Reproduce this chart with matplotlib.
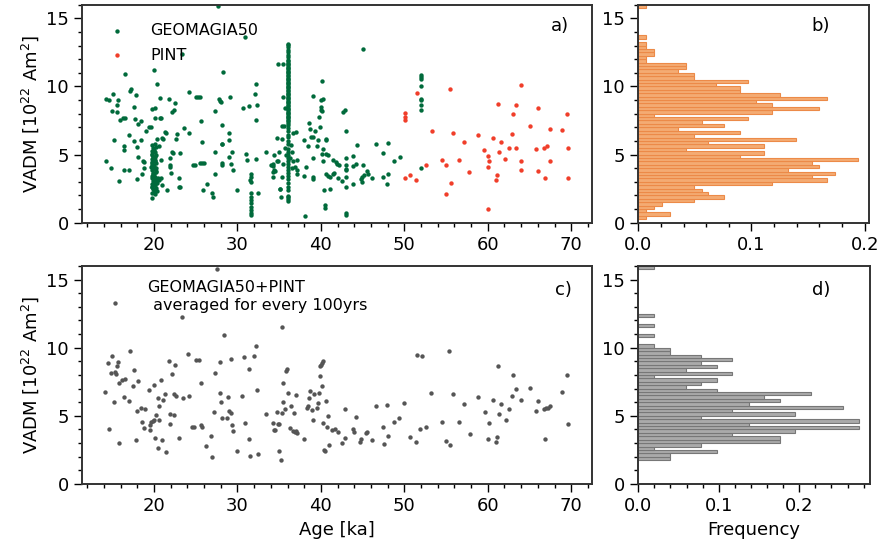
import matplotlib
matplotlib.use('Agg')
import matplotlib.pyplot as plt
from matplotlib.ticker import MultipleLocator

# --- panel a: GEOMAGIA50 (scattered points) ---
geo_age = [14.25, 14.8, 14.25, 14.55, 15.05, 15.0, 15.2, 15.5, 15.55, 15.65, 15.8, 15.9,
           16.3, 16.55, 16.5, 16.45, 16.45, 16.45, 17.1, 17.2, 17.05, 17.05, 17.55, 17.6,
           17.75, 17.8, 17.95, 18.0, 18.05, 18.1, 18.45, 18.45, 18.5, 18.7, 18.85, 18.85,
           19.05, 19.45, 19.6, 19.7, 20.08, 20.04, 20.4, 20.1, 20.7, 20.8, 20.68, 20.4,
           20.96, 21.1, 21.4, 20.6, 20.8, 20.84, 20.98, 21.56, 20.6, 21.84, 22.2, 22.4,
           22.55, 21.36, 22.67, 22.8, 21.92, 21.92, 21.95, 22.1, 22.3, 22.07, 23.03, 23.03,
           23.1, 23.1, 23.6, 23.4, 24.15, 24.23, 24.67, 24.85, 25.0, 25.3, 25.45, 25.5,
           25.63, 25.75, 25.75, 25.9, 26.0, 26.3, 27.0, 27.1, 27.3, 27.3, 27.7, 27.3,
           27.8, 27.9, 28.0, 28.3, 28.1, 28.1, 28.15, 28.1, 28.2, 28.96, 28.96, 28.96,
           29.1, 29.26, 29.3, 29.5, 30.0, 30.66, 30.9, 30.98, 31.1, 31.4, 31.5,
           32.1, 32.25, 32.3, 32.25, 32.2, 32.45, 33.4, 34.3, 34.4, 34.3, 34.3, 34.5,
           34.7, 34.8, 35.1, 35.2, 35.3, 35.5, 35.7, 35.7, 35.8, 34.05, 34.3, 34.37,
           34.69, 34.89, 34.93, 35.37, 35.29, 35.05, 35.45, 35.53, 35.49, 36.29, 36.49,
           36.69, 36.89, 37.13, 37.17, 37.17, 36.61, 37.01, 36.53, 36.37,
           38.1, 38.0, 38.2, 38.0, 38.4, 38.6, 38.7, 38.76, 39.0, 39.0, 39.0, 39.1,
           39.1, 39.3, 39.56, 39.6, 39.84, 39.8, 39.96, 40.08, 39.96, 40.0, 40.1, 40.28,
           40.2, 40.08, 40.28, 40.4, 40.48, 40.5, 40.6, 40.65, 40.6, 40.6, 40.8, 40.9,
           41.08, 41.08, 41.4, 41.5, 41.6, 41.76, 41.9, 42.1, 42.2, 42.5, 42.7, 42.9,
           42.95, 42.95, 42.95, 42.95, 43.0, 43.0, 43.0, 42.95, 43.0, 43.9, 43.9, 43.9,
           44.2, 44.3, 44.8, 44.9, 44.9, 45.0, 45.0, 45.2, 45.5, 45.6, 46.1, 46.6,
           47.43, 47.4, 47.9, 48.06, 48.1, 48.7, 49.46]
geo_vadm = [4.56, 4.0, 9.1, 8.97, 9.42, 8.16, 6.08, 8.1, 8.65, 9.02, 3.05, 7.5,
            7.67, 7.7, 10.9, 5.66, 5.32, 3.83, 9.65, 9.8, 6.45, 3.87, 8.5, 5.98,
            7.58, 9.34, 3.24, 5.54, 4.8, 7.25, 7.45, 6.1, 3.58, 4.56, 4.45, 4.0,
            6.7, 7.0, 7.03, 8.34, 8.41, 11.23, 10.15, 7.67, 7.67, 7.7, 9.14, 6.15,
            6.2, 6.15, 6.6, 5.6, 4.6, 3.29, 2.75, 2.38, 3.1, 9.07, 8.12, 8.26,
            8.75, 6.62, 6.13, 6.5, 4.73, 4.24, 4.1, 5.15, 5.1, 3.68, 3.26, 2.65,
            2.6, 5.1, 6.96, 12.4, 9.56, 6.57, 4.22, 4.22, 9.2, 9.2, 9.2, 4.35,
            7.48, 5.9, 4.36, 2.43, 4.36, 2.84, 2.2, 1.9, 3.6, 5.2, 15.9, 8.2,
            9.07, 8.95, 8.85, 11.05, 7.2, 5.8, 5.75, 4.25, 4.4, 6.1, 6.6, 4.85,
            9.24, 4.3, 5.15, 3.9, 2.43, 8.4, 13.6, 5.07, 4.6, 8.58, 3.1,
            9.46, 10.17, 8.65, 7.55, 4.65, 2.2, 5.17, 4.3, 4.97, 3.36, 3.7, 3.8,
            6.25, 11.67, 2.5, 1.86, 7.1, 9.2, 8.45, 5.5, 5.0, 4.24, 4.17, 3.9,
            4.49, 4.56, 5.2, 3.38, 6.15, 2.45, 11.64, 7.13, 4.29, 4.73, 4.0,
            4.49, 4.1, 3.85, 4.58, 3.6, 6.57, 6.69, 5.22, 5.71,
            0.49, 6.08, 4.1, 3.45, 5.6, 7.35, 6.86, 6.32, 9.3, 3.23, 3.35, 6.3,
            4.75, 6.7, 5.64, 6.1, 7.0, 7.75, 9.0, 10.42, 8.48, 8.3, 8.16, 9.1,
            5.42, 5.05, 4.53, 2.4, 1.32, 1.08, 6.08, 6.15, 5.05, 3.6, 3.4, 5.0,
            3.38, 2.47, 3.6, 4.58, 3.68, 4.44, 4.34, 3.28, 4.26, 3.04, 8.1, 8.28,
            6.7, 3.85, 3.95, 0.74, 0.56, 4.73, 2.65, 3.38, 4.24, 4.9, 4.17, 2.82,
            4.3, 5.7, 3.2, 3.0, 3.35, 12.75, 4.24, 3.5, 3.8, 3.6, 3.26, 5.8,
            5.12, 3.36, 2.87, 5.83, 3.55, 4.53, 4.85]

# dense column near 20 ka
col20_age = [19.8, 20.1, 19.7, 20.0, 19.9, 20.2, 19.8, 20.1, 19.7, 20.0, 19.9, 20.2,
             19.8, 20.1, 19.7, 20.0, 19.9, 20.2, 19.8, 20.1, 19.7, 20.0, 19.9, 20.2,
             19.8, 20.1, 19.7, 20.0, 19.9, 20.2, 19.8, 20.1, 19.7, 20.0, 19.9, 20.2,
             19.8, 20.1, 19.7, 20.0, 19.9, 20.2, 19.8, 20.1, 19.7, 20.0, 19.9, 20.2,
             19.8, 20.1, 20.4, 20.5, 19.6, 20.3]
col20_vadm = [1.84, 2.1, 2.2, 2.3, 2.45, 2.55, 2.65, 2.75, 2.85, 2.95, 3.05, 3.15,
              3.25, 3.35, 3.45, 3.55, 3.65, 3.75, 3.85, 3.95, 4.05, 4.15, 4.25, 4.35,
              4.45, 4.55, 4.65, 4.75, 4.85, 4.95, 5.05, 5.15, 5.25, 5.35, 5.45, 5.55,
              5.7, 5.8, 2.6, 3.0, 3.4, 3.8, 4.2, 4.6, 5.0, 3.2, 3.6, 4.0,
              4.4, 4.8, 2.9, 3.3, 4.1, 2.35]

# dense column near 31.7 ka
col32_age = [31.66, 31.66, 31.66, 31.66, 31.66, 31.66, 31.66, 31.66, 31.66, 31.66, 31.66]
col32_vadm = [3.58, 3.33, 3.02, 2.16, 1.9, 1.67, 1.42, 1.18, 0.93, 0.69, 0.56]

# dense column near 36 ka
col36_age = [36.05] * 79
col36_vadm = [13.14, 13.02, 12.87, 12.7, 12.53, 12.33, 12.16,
              11.95, 11.85, 11.75, 11.65, 11.55, 11.45, 11.35, 11.25, 11.15, 11.05,
              10.95, 10.85, 10.75, 10.65, 10.55, 10.45, 10.35, 10.25, 10.15, 10.05,
              9.95, 9.85, 9.75, 9.65, 9.55, 9.45, 9.35, 9.25, 9.15, 9.05,
              8.95, 8.85, 8.75, 8.65, 8.55, 8.45, 8.35, 8.25, 8.15, 8.05,
              7.95, 7.85, 7.75, 7.65, 7.55, 7.45, 7.35,
              7.2, 6.96, 6.72, 6.47, 6.3, 5.98, 5.74, 5.44, 5.22, 5.0, 4.76, 4.51,
              4.32, 4.12, 3.9, 3.66, 3.41, 3.17, 2.92, 2.6, 2.41, 1.99, 1.87, 1.72, 1.57]

# column near 52 ka
col52_age = [51.98, 51.98, 51.98, 51.98, 51.98, 51.98, 51.98, 51.98, 51.98]
col52_vadm = [4.04, 10.85, 10.7, 10.55, 10.0, 9.1, 9.0, 8.6, 8.3]

# --- panel a: PINT ---
pint_age = [50.06, 50.06, 50.06, 50.06, 50.7, 51.4, 51.46, 52.65, 53.3, 54.57, 55.05, 55.05,
            55.45, 55.57, 55.85, 56.57, 57.1, 57.8, 58.8, 59.6, 60.04, 60.04, 60.1, 60.04,
            60.6, 61.04, 61.16, 61.24, 61.36, 61.64, 62.1, 62.5, 62.9, 63.03, 63.43, 63.43,
            64.03, 64.03, 64.03, 65.03, 65.8, 66.03, 66.03, 66.75, 66.83, 67.1, 67.4, 67.4,
            68.94, 69.5, 69.6, 69.6]
pint_vadm = [8.04, 7.75, 7.5, 3.28, 3.5, 3.1, 9.53, 4.2, 6.7, 4.6, 4.2, 2.13,
             9.8, 2.9, 6.6, 4.6, 5.9, 3.7, 6.4, 5.3, 4.9, 4.1, 4.5, 1.0,
             6.2, 3.1, 3.5, 8.73, 5.2, 5.9, 4.7, 5.5, 6.5, 8.0, 8.6, 5.5,
             10.1, 4.5, 3.9, 7.1, 5.4, 8.4, 3.8, 5.5, 3.3, 5.6, 6.9, 4.5,
             6.8, 8.0, 5.5, 3.3]

# --- panel c: averaged every 100 yrs ---
avg_age = [27.55, 15.37, 23.35, 28.38, 17.17, 14.97, 14.45, 15.69, 15.53, 24.07, 25.03, 25.35,
           21.76, 22.47, 17.64, 14.81, 15.37, 15.49, 15.85, 16.17, 16.57, 18.04, 17.48, 14.13,
           15.17, 16.37, 16.97, 19.36, 19.96, 20.88, 22.16, 21.32, 20.44, 21.12, 20.64, 22.35,
           22.67, 23.47, 24.15, 25.67, 27.27, 27.86, 29.18, 30.74, 31.34, 17.92, 18.44, 18.88,
           20.28, 21.96, 22.4, 18.56, 18.76, 19.56, 19.68, 19.85, 20.04, 19.56, 20.64, 21.88,
           24.55, 24.75, 25.63, 25.8, 27.19, 27.86, 28.06, 28.86, 28.98, 29.18, 28.16, 28.78,
           29.38, 29.46, 30.54, 30.94, 14.65, 15.77, 17.88, 20.08, 20.96, 20.48, 21.48, 22.95,
           26.87, 26.27, 26.95, 29.94, 31.34, 31.5,
           35.37, 32.17, 31.98, 32.3, 33.37, 34.69, 35.29, 34.21, 34.41, 34.55, 34.85, 34.95,
           32.45, 35.0, 35.17, 35.49, 35.49, 35.81, 35.97, 35.73, 36.09, 36.37, 36.81, 37.0,
           36.29, 36.69, 36.85, 37.0, 37.17, 38.0, 38.28, 38.48, 38.6, 38.72, 39.2, 38.96,
           39.08, 39.48, 39.6, 39.72, 39.84, 39.88, 39.96, 40.12, 40.28, 40.08, 40.2, 40.36,
           40.5, 40.64, 40.8, 40.68, 40.96, 41.3, 41.67, 42.1, 42.5, 42.87, 42.83, 44.19,
           43.79, 43.91, 44.75, 44.71, 45.39, 45.5, 46.11, 46.59, 47.98, 47.42, 47.62, 48.1,
           48.7, 49.38, 49.98, 50.66, 51.34, 51.46, 51.86,
           52.06, 52.65, 53.21, 54.53, 55.01, 55.53, 55.41, 55.81, 56.53, 57.13, 57.84, 58.84,
           59.64, 60.12, 60.04, 60.64, 61.12, 61.04, 61.24, 61.32, 61.64, 62.16, 62.5, 62.95,
           63.03, 63.43, 64.03, 65.03, 65.83, 66.03, 66.83, 66.71, 66.95, 67.19, 67.42, 68.94,
           69.54, 69.66]
avg_vadm = [15.8, 13.28, 12.25, 10.96, 9.79, 9.42, 8.91, 8.96, 8.69, 9.52, 9.1, 9.1,
            9.01, 8.74, 8.4, 8.13, 8.23, 8.08, 7.44, 7.62, 7.69, 7.54, 7.18, 6.78,
            6.05, 6.37, 6.08, 6.93, 7.3, 7.66, 8.05, 6.57, 6.32, 6.13, 5.73, 6.64,
            6.47, 6.3, 6.49, 7.42, 8.15, 8.93, 9.18, 9.3, 8.47, 5.39, 5.61, 5.52,
            5.05, 5.15, 5.05, 4.56, 4.12, 4.32, 4.56, 4.6, 4.66, 3.95, 4.73, 4.37,
            4.15, 4.15, 4.32, 4.2, 5.25, 6.66, 6.0, 6.39, 5.34, 5.2, 4.81, 4.81,
            4.32, 3.9, 6.44, 4.49, 4.0, 3.0, 3.22, 3.34, 3.2, 2.66, 2.32, 3.34,
            3.49, 2.76, 1.95, 2.44, 3.29, 2.05,
            11.55, 10.11, 9.42, 6.88, 5.15, 5.3, 5.2, 4.51, 3.95, 3.93, 4.42, 4.38,
            2.2, 2.41, 1.75, 7.44, 6.03, 8.27, 8.47, 5.49, 6.66, 5.69, 5.2, 6.52,
            4.12, 3.9, 3.82, 3.9, 3.73, 3.29, 5.54, 5.69, 6.32, 6.81, 6.64, 5.44,
            4.71, 5.59, 5.98, 6.71, 7.93, 8.67, 8.76, 8.91, 9.06, 7.2, 4.51, 2.49,
            2.45, 6.08, 5.0, 4.15, 2.85, 3.98, 4.03, 3.78, 3.0, 3.39, 5.49, 4.95,
            4.07, 3.81, 3.29, 3.1, 3.73, 3.85, 3.2, 5.74, 5.78, 4.2, 2.9, 3.49,
            4.56, 4.83, 5.93, 3.47, 3.1, 9.5, 4.03,
            9.4, 4.15, 6.66, 4.56, 3.15, 2.85, 9.74, 6.57, 4.56, 5.88, 3.68, 6.37,
            5.27, 4.47, 3.29, 6.17, 3.46, 3.07, 8.67, 5.17, 5.88, 4.68, 5.47, 6.47,
            7.98, 7.0, 6.13, 7.05, 5.37, 6.08, 3.27, 5.47, 5.54, 5.61, 5.69, 6.76,
            7.98, 4.37]

# --- panel b: histogram of GEOMAGIA50 + PINT (bin lower edge, frequency) ---
b_bins = [0.25, 0.5, 0.75, 1.0, 1.25, 1.5, 1.75, 2.0, 2.25, 2.5, 2.75, 3.0, 3.25, 3.5,
          3.75, 4.0, 4.25, 4.5, 4.75, 5.0, 5.25, 5.5, 5.75, 6.0, 6.25, 6.5, 6.75, 7.0,
          7.25, 7.5, 7.75, 8.0, 8.25, 8.5, 8.75, 9.0, 9.25, 9.5, 9.75, 10.0, 10.25, 10.5,
          10.75, 11.0, 11.25, 11.5, 11.75, 12.0, 12.25, 12.5, 12.75, 13.0, 13.5, 15.75]
b_freq = [0.0065, 0.028, 0.0065, 0.0135, 0.0206, 0.049, 0.076, 0.062, 0.056, 0.049, 0.118,
          0.167, 0.153, 0.174, 0.132, 0.16, 0.153, 0.194, 0.09, 0.111, 0.042, 0.111, 0.062,
          0.139, 0.049, 0.09, 0.035, 0.076, 0.056, 0.097, 0.0135, 0.118, 0.16, 0.118, 0.104,
          0.167, 0.125, 0.09, 0.09, 0.069, 0.097, 0.049, 0.049, 0.035, 0.042, 0.042, 0.0065,
          0.0065, 0.0135, 0.0135, 0.0065, 0.0065, 0.0065, 0.0065]

# --- panel d: histogram of averaged data ---
d_bins = [1.75, 2.0, 2.25, 2.5, 2.75, 3.0, 3.25, 3.5, 3.75, 4.0, 4.25, 4.5, 4.75, 5.0,
          5.25, 5.5, 5.75, 6.0, 6.25, 6.5, 6.75, 7.0, 7.25, 7.5, 7.75, 8.0, 8.25, 8.5,
          8.75, 9.0, 9.25, 9.5, 9.75, 10.0, 10.75, 11.5, 12.25, 15.75]
d_freq = [0.039, 0.039, 0.098, 0.019, 0.078, 0.176, 0.176, 0.117, 0.195, 0.274, 0.137,
          0.274, 0.078, 0.195, 0.117, 0.254, 0.137, 0.176, 0.156, 0.215, 0.098, 0.059,
          0.078, 0.098, 0.019, 0.117, 0.059, 0.098, 0.078, 0.117, 0.078, 0.039, 0.039,
          0.019, 0.019, 0.019, 0.019, 0.019]
bin_w = 0.25

green = '#006a3b'
red = '#f03e2a'
grey = '#555555'
fs = 13

fig = plt.figure(figsize=(8.85, 5.52), dpi=100)
ax_a = fig.add_axes([0.093, 0.5966, 0.576, 0.395])
ax_b = fig.add_axes([0.7212, 0.5966, 0.261, 0.395])
ax_c = fig.add_axes([0.093, 0.1232, 0.576, 0.395])
ax_d = fig.add_axes([0.7212, 0.1232, 0.262, 0.395])

ga = geo_age + col20_age + col32_age + col36_age + col52_age
gv = geo_vadm + col20_vadm + col32_vadm + col36_vadm + col52_vadm
ax_a.scatter(ga, gv, s=10, color=green, linewidths=0, label='GEOMAGIA50')
ax_a.scatter(pint_age, pint_vadm, s=10, color=red, linewidths=0, label='PINT')
ax_a.legend(loc='upper left', frameon=False, fontsize=11.5, handletextpad=1.1,
            borderaxespad=0.75, labelspacing=0.6)
ax_a.text(0.955, 0.9, 'a)', transform=ax_a.transAxes, ha='right', va='center', fontsize=fs)

ax_c.scatter(avg_age, avg_vadm, s=10, color=grey, linewidths=0)
ax_c.text(0.128, 0.86, 'GEOMAGIA50+PINT\n averaged for every 100yrs',
          transform=ax_c.transAxes, ha='left', va='center', fontsize=11.5, linespacing=1.3)
ax_c.text(0.96, 0.89, 'c)', transform=ax_c.transAxes, ha='right', va='center', fontsize=fs)

ax_b.barh(b_bins, b_freq, height=bin_w, align='edge', color='#f4ab73',
          edgecolor='#ec8a48', linewidth=0.8)
ax_b.text(0.83, 0.9, 'b)', transform=ax_b.transAxes, ha='right', va='center', fontsize=fs)
ax_d.barh(d_bins, d_freq, height=bin_w, align='edge', color='#aaaaaa',
          edgecolor='#777777', linewidth=0.8)
ax_d.text(0.83, 0.89, 'd)', transform=ax_d.transAxes, ha='right', va='center', fontsize=fs)

for ax in (ax_a, ax_c):
    ax.set_xlim(11.4, 72.5)
    ax.xaxis.set_major_locator(MultipleLocator(10))
    ax.xaxis.set_minor_locator(MultipleLocator(2))
    ax.set_ylabel('VADM [10$^{22}$ Am$^2$]', fontsize=fs)
ax_c.set_xlabel('Age [ka]', fontsize=fs)

ax_b.set_xlim(0, 0.204)
ax_d.set_xlim(0, 0.288)
for ax in (ax_b, ax_d):
    ax.xaxis.set_major_locator(MultipleLocator(0.1))
    ax.xaxis.set_minor_locator(MultipleLocator(0.02))
    ax.xaxis.set_major_formatter(matplotlib.ticker.FormatStrFormatter('%.1f'))
ax_d.set_xlabel('Frequency', fontsize=fs)

for ax in (ax_a, ax_b, ax_c, ax_d):
    ax.set_ylim(0, 16)
    ax.yaxis.set_major_locator(MultipleLocator(5))
    ax.yaxis.set_minor_locator(MultipleLocator(1))
    ax.tick_params(which='major', direction='out', length=6, width=1, labelsize=fs)
    ax.tick_params(which='minor', direction='out', length=3, width=1)
    for sp in ax.spines.values():
        sp.set_color('#333333')
        sp.set_linewidth(1.4)

fig.savefig('out.png', dpi=100)
